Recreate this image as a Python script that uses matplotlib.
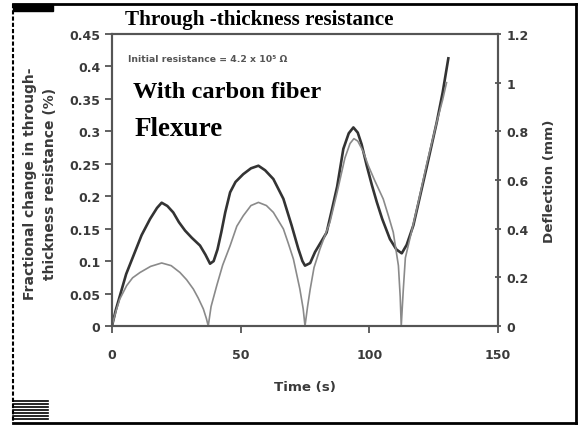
import matplotlib
matplotlib.use("Agg")
import matplotlib.pyplot as plt
from matplotlib.lines import Line2D
from matplotlib.patches import Rectangle

# ---- data ----
res_time = [0, 1.5, 3.1, 5.5, 8.3, 11.5, 14.8, 17.5, 19.3, 21.5, 23.8, 26.0, 28.4, 31.0, 34.2, 36.3, 38.1,
            39.5, 41.0, 42.5, 44.0, 45.9, 48.0, 51.0, 54.0, 56.9, 59.5, 62.7, 66.6, 69.8, 72.4, 74.0, 75.0,
            77.0, 78.9, 81.0, 83.4, 85.5, 87.5, 89.9, 92.0, 93.8, 95.5, 97.0, 99.0, 101.0, 102.9, 105.0,
            108.0, 110.5, 112.6, 114.5, 117.1, 119.7, 122.3, 126.2, 128.5, 130.7]
res_change = [0.0, 0.025, 0.047, 0.08, 0.108, 0.14, 0.165, 0.182, 0.19, 0.185, 0.175, 0.16, 0.147, 0.136, 0.124, 0.11, 0.096,
              0.1, 0.118, 0.145, 0.175, 0.206, 0.222, 0.234, 0.243, 0.247, 0.24, 0.2265, 0.196, 0.155, 0.119, 0.1, 0.093,
              0.097, 0.114, 0.128, 0.144, 0.18, 0.215, 0.273, 0.297, 0.306, 0.298, 0.28, 0.247, 0.217, 0.191, 0.165,
              0.134, 0.118, 0.112, 0.125, 0.155, 0.2, 0.245, 0.314, 0.36, 0.4125]

def_time = [0, 1.5, 3.0, 5.7, 8.0, 10.9, 15.0, 19.3, 23.0, 26.4, 29.0, 31.6, 33.5, 35.5, 36.7, 37.4,
            38.5, 40.7, 43.0, 45.9, 48.5, 51.0, 54.0, 56.9, 60.0, 62.7, 66.6, 68.5, 70.5, 73.0, 74.3, 75.0,
            76.0, 77.0, 78.5, 80.8, 84.7, 87.5, 90.5, 92.5, 94.0, 95.5, 97.5, 99.6, 102.0, 105.4, 107.5, 109.3, 111.3, 112.0, 112.4,
            113.2, 114.0, 117.0, 119.7, 122.3, 126.2, 128.5, 130.0]
deflection = [0.0, 0.06, 0.11, 0.166, 0.198, 0.22, 0.245, 0.259, 0.248, 0.22, 0.19, 0.152, 0.115, 0.07, 0.03, 0.0,
              0.08, 0.166, 0.25, 0.33, 0.41, 0.453, 0.495, 0.508, 0.495, 0.467, 0.399, 0.34, 0.275, 0.152, 0.07, 0.0,
              0.08, 0.15, 0.24, 0.316, 0.427, 0.55, 0.69, 0.75, 0.77, 0.76, 0.72, 0.659, 0.6, 0.522, 0.45, 0.385, 0.248, 0.12, 0.0,
              0.15, 0.28, 0.415, 0.54, 0.666, 0.838, 0.93, 1.0]

x_ticks = [0, 50, 100, 150]
left_ticks = [0, 0.05, 0.1, 0.15, 0.2, 0.25, 0.3, 0.35, 0.4, 0.45]
left_labels = ["0", "0.05", "0.1", "0.15", "0.2", "0.25", "0.3", "0.35", "0.4", "0.45"]
right_ticks = [0, 0.2, 0.4, 0.6, 0.8, 1.0, 1.2]
right_labels = ["0", "0.2", "0.4", "0.6", "0.8", "1", "1.2"]

plt.rcParams['font.family'] = ['DejaVu Sans']
serif = ['Liberation Serif', 'DejaVu Serif']

fig = plt.figure(figsize=(5.81, 4.27), dpi=100)
W, H = 581, 427
ax = fig.add_axes([112 / W, 1 - 327 / H, (498 - 112) / W, (327 - 35) / H])
ax2 = ax.twinx()

axcol = "#555555"
txtcol = "#3a3a3a"

ax.plot(res_time, res_change, color="#333333", lw=1.9, zorder=3)
ax2.plot(def_time, deflection, color="#8a8a8a", lw=1.2, zorder=2)

ax.set_xlim(0, 150)
ax.set_ylim(0, 0.45)
ax2.set_ylim(0, 1.2)

ax.set_xticks(x_ticks)
ax.set_xticklabels([str(t) for t in x_ticks])
ax.set_yticks(left_ticks)
ax.set_yticklabels(left_labels)
ax2.set_yticks(right_ticks)
ax2.set_yticklabels(right_labels)

for a in (ax, ax2):
    for s in a.spines.values():
        s.set_color(axcol)
        s.set_linewidth(1.5)
ax.tick_params(axis='both', colors=axcol, width=1.3, length=5, direction='out',
               labelsize=9, labelcolor=txtcol)
ax.tick_params(axis='x', pad=11)
ax2.tick_params(axis='y', colors=axcol, width=1.3, length=5, direction='inout',
                labelsize=9, labelcolor=txtcol)
for lab in ax.get_xticklabels() + ax.get_yticklabels() + ax2.get_yticklabels():
    lab.set_fontweight('bold')

ax.set_xlabel("Time (s)", fontsize=9.6, fontweight='bold', color=txtcol, va='center')
ax.xaxis.set_label_coords(0.5, (327 - 388) / 292)
ax.set_ylabel("Fractional change in through-\nthickness resistance (%)", fontsize=10,
              fontweight='bold', color=txtcol, linespacing=1.5, va='center')
ax.yaxis.set_label_coords((40 - 112) / 386, 0.49)
ax2.set_ylabel("Deflection (mm)", fontsize=9.7, fontweight='bold', color=txtcol, va='center')
ax2.yaxis.set_label_coords((549 - 112) / 386, 0.5)

# texts
fig.text(125 / W, 1 - 20 / H, "Through -thickness resistance", fontsize=15.2, fontweight='bold',
         family=serif, ha='left', va='center')
fig.text(128 / W, 1 - 60 / H, "Initial resistance = 4.2 x 10\u2075 \u03a9", fontsize=6.7,
         fontweight='bold', color="#555555", ha='left', va='center')
fig.text(133 / W, 1 - 93 / H, "With carbon fiber", fontsize=17.6, fontweight='bold',
         family=serif, ha='left', va='center')
fig.text(135 / W, 1 - 129 / H, "Flexure", fontsize=19.5, fontweight='bold',
         family=serif, ha='left', va='center')

# frame decorations
fig.add_artist(Line2D([13 / W, 576 / W], [1 - 5 / H, 1 - 5 / H], color='black', lw=2, transform=fig.transFigure))
fig.add_artist(Line2D([576 / W, 576 / W], [1 - 5 / H, 1 - 424 / H], color='black', lw=2, transform=fig.transFigure))
fig.add_artist(Line2D([13 / W, 576 / W], [1 - 424 / H, 1 - 424 / H], color='black', lw=2, transform=fig.transFigure))
fig.add_artist(Line2D([13 / W, 13 / W], [1 - 5 / H, 1 - 424 / H], color='black', lw=1.5,
                      linestyle=(0, (2, 1)), transform=fig.transFigure))
fig.add_artist(Rectangle((13 / W, 1 - 12 / H), 40 / W, 7 / H, color='black', transform=fig.transFigure))
for yy in range(402, 422, 3):
    fig.add_artist(Line2D([13 / W, 48 / W], [1 - yy / H, 1 - yy / H], color='black', lw=1.2,
                          transform=fig.transFigure))

fig.savefig("out.png", dpi=100)
